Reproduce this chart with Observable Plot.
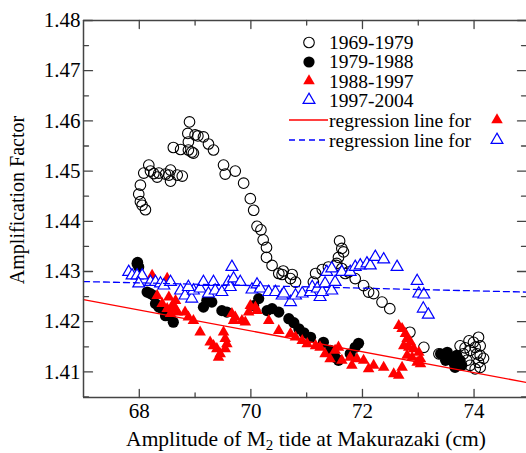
<!DOCTYPE html>
<html><head><meta charset="utf-8">
<script src="https://cdn.jsdelivr.net/npm/d3@7"></script>
<script src="https://cdn.jsdelivr.net/npm/@observablehq/plot@0.6"></script>
<style>
html,body{margin:0;padding:0;background:#fff;}
#wrap{position:relative;width:526px;height:453px;overflow:hidden;}
#wrap svg{display:block;}
#legend{position:absolute;left:0;top:0;pointer-events:none;}
</style>
</head><body><div id="wrap"></div>
<script>
// ---- data ----
const seriesNames = ["1969-1979", "1979-1988", "1988-1997", "1997-2004"];
const regressionLabel = "regression line for";
const xLabelMain = "Amplitude of M";
const xLabelSub = "2";
const xLabelRest = " tide at Makurazaki (cm)";
const yLabel = "Amplification Factor";

const xDomain = [67, 74.94];
const yDomain = [1.4049, 1.48];
const xTickLabels = [68, 70, 72, 74];
const xMinorTicks = [69, 71, 73];
const yTickLabels = [1.41, 1.42, 1.43, 1.44, 1.45, 1.46, 1.47, 1.48];
const yMinorTicks = [1.405, 1.415, 1.425, 1.435, 1.445, 1.455, 1.465, 1.475];

const open1969 = [
  [67.99,1.4454],[68.02,1.4472],[68.02,1.4439],[68.05,1.4432],[68.11,1.4423],
  [68.08,1.4496],[68.17,1.4512],[68.20,1.4500],[68.26,1.4495],[68.32,1.4488],
  [68.35,1.4496],[68.47,1.4494],[68.53,1.4492],[68.56,1.4502],[68.56,1.4480],
  [68.68,1.4492],[68.77,1.4490],[68.61,1.4547],[68.74,1.4543],[68.88,1.4542],
  [68.94,1.4538],[68.97,1.4536],[68.88,1.4558],[68.87,1.4575],[68.90,1.4598],
  [69.00,1.4572],[69.05,1.4570],[69.15,1.4568],[69.24,1.4554],[69.33,1.4542],
  [69.51,1.4512],[69.54,1.4494],[69.72,1.4500],[69.87,1.4476],[69.99,1.4445],
  [70.05,1.4422],[70.11,1.4390],[70.18,1.4383],[70.22,1.4363],[70.28,1.4348],
  [70.28,1.4328],[70.38,1.4312],[70.50,1.4296],[70.58,1.4301],[70.56,1.4294],
  [70.74,1.4294],[70.71,1.4286],[70.80,1.4279],[71.16,1.4296],[71.12,1.4279],
  [71.28,1.4304],[71.39,1.4309],[71.53,1.4312],[71.59,1.4361],[71.63,1.4346],
  [71.66,1.4339],[71.57,1.4328],[71.54,1.4316],[71.63,1.4306],[71.69,1.4296],
  [71.75,1.4299],[71.87,1.4286],[72.02,1.4272],[72.11,1.4259],[72.20,1.4256],
  [72.35,1.4239],[72.49,1.4226],[72.85,1.4179],[73.10,1.4149],[73.37,1.4136],
  [73.75,1.4152],[73.84,1.4148],[73.93,1.4143],[74.02,1.4149],[74.08,1.4169],
  [73.99,1.4159],[74.11,1.4152],[74.05,1.4136],[74.11,1.4133],[74.08,1.4119],
  [74.11,1.4109],[74.02,1.4106],[73.93,1.4113],[73.87,1.4123],[73.81,1.4136],
  [74.17,1.4127],[73.91,1.4162]
];

const filled1979 = [
  [67.96,1.4316],[67.99,1.4309],[67.97,1.4318],[68.14,1.4259],[68.20,1.4256],
  [68.26,1.4252],[68.29,1.4236],[68.35,1.4229],[68.41,1.4226],[68.47,1.4212],
  [68.53,1.4212],[68.61,1.4199],[69.15,1.4229],[69.21,1.4242],[69.30,1.4239],
  [69.48,1.4222],[69.57,1.4219],[70.05,1.4232],[70.14,1.4246],[70.29,1.4222],
  [70.38,1.4226],[70.50,1.4219],[70.68,1.4206],[70.77,1.4198],[70.86,1.4186],
  [70.95,1.4178],[71.07,1.4169],[71.30,1.4159],[71.42,1.4143],[71.51,1.4129],
  [71.57,1.4123],[71.78,1.4136],[71.87,1.4149],[71.93,1.4157],[73.40,1.4136],
  [73.52,1.4139],[73.58,1.4129],[73.49,1.4123],[73.63,1.4119],[73.69,1.4133],
  [73.75,1.4123],[73.78,1.4113],[73.66,1.4109]
];

const red1988 = [
  [68.23,1.4292],[68.50,1.4286],[68.32,1.4252],[68.53,1.4249],[68.41,1.4236],
  [68.59,1.4232],[68.65,1.4242],[68.50,1.4226],[68.65,1.4226],[68.68,1.4219],
  [68.56,1.4216],[68.82,1.4219],[68.88,1.4209],[68.97,1.4202],[69.09,1.4179],
  [69.27,1.4159],[69.33,1.4152],[69.39,1.4146],[69.45,1.4136],[69.42,1.4129],
  [69.51,1.4179],[69.54,1.4166],[69.57,1.4156],[69.54,1.4146],[69.66,1.4216],
  [69.69,1.4202],[69.72,1.4209],[69.84,1.4202],[69.90,1.4199],[69.96,1.4219],
  [70.08,1.4229],[70.11,1.4222],[69.99,1.4232],[70.32,1.4202],[70.50,1.4182],
  [70.71,1.4176],[70.80,1.4169],[70.92,1.4162],[71.01,1.4156],[71.16,1.4152],
  [71.24,1.4149],[71.33,1.4136],[71.42,1.4126],[71.51,1.4143],[71.57,1.4149],
  [71.63,1.4123],[71.78,1.4129],[71.81,1.4113],[71.90,1.4126],[72.02,1.4123],
  [72.11,1.4106],[72.20,1.4113],[72.38,1.4109],[72.56,1.4096],[72.65,1.4093],
  [72.71,1.4109],[72.65,1.4192],[72.71,1.4186],[72.77,1.4176],[72.80,1.4166],
  [72.74,1.4152],[72.83,1.4149],[72.86,1.4159],[72.92,1.4146],[72.80,1.4133],
  [72.89,1.4129],[73.01,1.4139],[73.04,1.4126],[73.04,1.4116],[72.98,1.4119]
];

const blue1997 = [
  [67.81,1.4299],[67.87,1.4292],[67.96,1.4292],[68.05,1.4292],[67.99,1.4276],
  [68.20,1.4279],[68.29,1.4279],[68.38,1.4276],[68.44,1.4272],[68.56,1.4279],
  [68.74,1.4262],[68.82,1.4252],[68.94,1.4246],[68.97,1.4262],[68.88,1.4269],
  [69.09,1.4266],[69.15,1.4279],[69.24,1.4256],[69.33,1.4279],[69.36,1.4262],
  [69.48,1.4259],[69.60,1.4279],[69.63,1.4269],[69.66,1.4309],[69.69,1.4286],
  [69.81,1.4279],[70.02,1.4264],[70.11,1.4274],[70.17,1.4266],[70.32,1.4259],
  [70.44,1.4259],[70.56,1.4252],[70.59,1.4256],[70.71,1.4239],[70.80,1.4252],
  [70.92,1.4256],[71.07,1.4259],[71.10,1.4269],[71.19,1.4266],[71.24,1.4249],
  [71.28,1.4259],[71.33,1.4276],[71.45,1.4262],[71.51,1.4279],[71.36,1.4299],
  [71.45,1.4306],[71.63,1.4299],[71.78,1.4299],[71.87,1.4309],[71.96,1.4312],
  [72.08,1.4316],[72.14,1.4312],[72.23,1.4329],[72.38,1.4324],[72.62,1.4309],
  [72.98,1.4281],[73.01,1.4256],[73.10,1.4254],[73.09,1.4226],[73.18,1.4214]
];

const regRedX = [67, 74.94];
const regRedY = [1.4244, 1.4079];
const regBlueX = [67, 74.94];
const regBlueY = [1.4280, 1.4259];

// ---- chart ----
const axisColor = "#444";
const font = "Liberation Serif";
const toObj = a => a.map(([x, y]) => ({x, y}));
const redLine = regRedX.map((x, i) => ({x, y: regRedY[i]}));
const blueLine = regBlueX.map((x, i) => ({x, y: regBlueY[i]}));
const tickShape = {draw(ctx, l) { ctx.moveTo(0, 0); ctx.lineTo(0, -l); }};
const tk = (data, ch, anchor, rot, len) => Plot.vector(data, {
  [ch]: d => d, frameAnchor: anchor, rotate: rot, length: len, anchor: "start",
  shape: tickShape, stroke: axisColor, strokeWidth: 1.3
});

const chart = Plot.plot({
  width: 526, height: 453,
  marginLeft: 83, marginRight: 0, marginTop: 20, marginBottom: 56,
  style: {fontFamily: font, fontSize: "21px", color: "#000", background: "#fff"},
  x: {domain: xDomain, label: null},
  y: {domain: yDomain, label: null},
  marks: [
    Plot.dot(toObj(open1969), {x: "x", y: "y", r: 5.3, stroke: "#000", strokeWidth: 1.1, fill: "none"}),
    Plot.dot(toObj(filled1979), {x: "x", y: "y", r: 5.6, fill: "#000", stroke: "none"}),
    Plot.dot(toObj(red1988), {x: "x", y: "y", r: 4.3, symbol: "triangle", fill: "#ff0000", stroke: "none"}),
    Plot.dot(toObj(blue1997), {x: "x", y: "y", r: 4.4, symbol: "triangle", fill: "#fff", stroke: "#0000ff", strokeWidth: 1.2}),
    Plot.line(redLine, {x: "x", y: "y", stroke: "#ff0000", strokeWidth: 1.3}),
    Plot.line(blueLine, {x: "x", y: "y", stroke: "#0000ff", strokeWidth: 1.3, strokeDasharray: "6,4"}),
    Plot.ruleX([xDomain[0]], {stroke: axisColor, strokeWidth: 1.5}),
    Plot.ruleY([yDomain[0], yDomain[1]], {stroke: axisColor, strokeWidth: 1.5}),
    tk(xTickLabels, "x", "bottom", 0, 8),
    tk(xMinorTicks, "x", "bottom", 0, 4.5),
    tk(xTickLabels, "x", "top", 180, 8),
    tk(xMinorTicks, "x", "top", 180, 4.5),
    tk(yTickLabels, "y", "left", 90, 9),
    tk(yMinorTicks, "y", "left", 90, 5),
    tk(yTickLabels, "y", "right", -90, 9),
    tk(yMinorTicks, "y", "right", -90, 5),
    Plot.axisX({ticks: xTickLabels, tickSize: 0, tickPadding: 6, label: null, tickFormat: d => String(d)}),
    Plot.axisY({ticks: yTickLabels, tickSize: 0, tickPadding: 3, label: null, tickFormat: d => d.toFixed(2)})
  ]
});

const wrap = document.getElementById("wrap");
wrap.appendChild(chart);

// axis titles
const svg = d3.select(chart);
const xt = svg.append("text").attr("x", 306).attr("y", 446).attr("text-anchor", "middle")
  .attr("font-family", font).attr("font-size", "21.5px").attr("fill", "#000");
xt.append("tspan").text(xLabelMain);
xt.append("tspan").attr("dy", 4).attr("font-size", "15px").text(xLabelSub);
xt.append("tspan").attr("dy", -4).text(xLabelRest);
svg.append("text").attr("transform", "translate(24,200) rotate(-90)").attr("text-anchor", "middle")
  .attr("font-family", font).attr("font-size", "20px").attr("fill", "#000").text(yLabel);

// legend overlay
const lg = d3.select(wrap).append("svg").attr("id", "legend").attr("width", 526).attr("height", 453)
  .attr("font-family", font).attr("font-size", "19.5px");
const tri = r => d3.symbol(d3.symbolTriangle, r * r * Math.PI)();
const rows = [49, 68, 87.5, 107, 127, 146.5];
const mx = 309, tx = 329;
lg.append("circle").attr("cx", mx).attr("cy", 42.5).attr("r", 5.3).attr("fill", "none").attr("stroke", "#000").attr("stroke-width", 1.1);
lg.append("circle").attr("cx", mx).attr("cy", 62).attr("r", 5.6).attr("fill", "#000");
lg.append("path").attr("d", tri(4.3)).attr("transform", `translate(${mx},81)`).attr("fill", "#ff0000");
lg.append("path").attr("d", tri(4.4)).attr("transform", `translate(${mx},100)`).attr("fill", "#fff").attr("stroke", "#0000ff").attr("stroke-width", 1.2);
lg.append("line").attr("x1", 289).attr("x2", 328).attr("y1", 120).attr("y2", 120).attr("stroke", "#ff0000").attr("stroke-width", 1.3);
lg.append("line").attr("x1", 289).attr("x2", 328).attr("y1", 140).attr("y2", 140).attr("stroke", "#0000ff").attr("stroke-width", 1.3).attr("stroke-dasharray", "6,4");
lg.append("path").attr("d", tri(4.3)).attr("transform", `translate(497,120)`).attr("fill", "#ff0000");
lg.append("path").attr("d", tri(4.4)).attr("transform", `translate(497,140)`).attr("fill", "#fff").attr("stroke", "#0000ff").attr("stroke-width", 1.2);
const labels = [...seriesNames, regressionLabel, regressionLabel];
labels.forEach((t, i) => lg.append("text").attr("x", tx).attr("y", rows[i]).attr("fill", "#000").text(t));
</script>
</body></html>
